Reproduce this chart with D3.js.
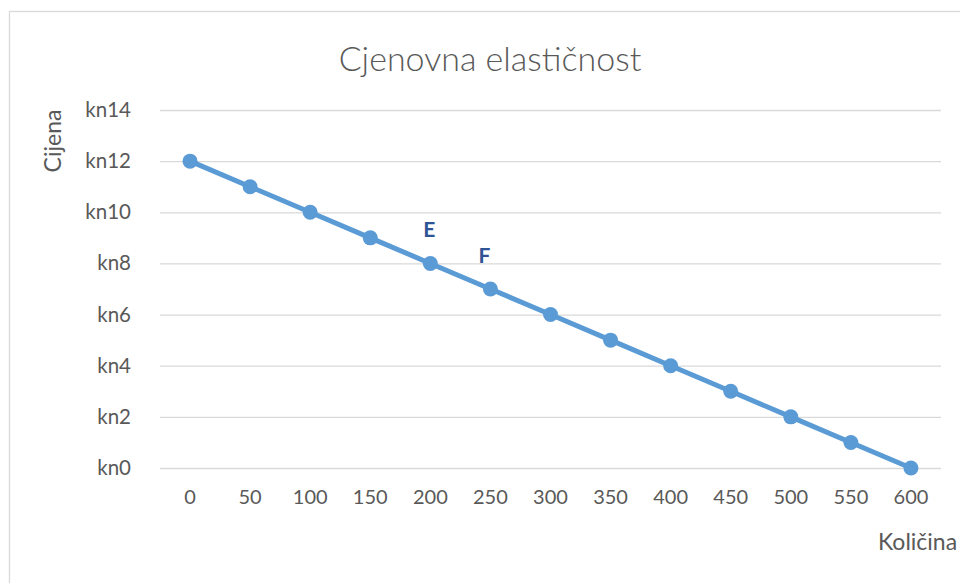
<!DOCTYPE html>
<html>
<head>
<meta charset="utf-8">
<script src="https://cdn.jsdelivr.net/npm/d3@7"></script>
<style>
  html, body { margin: 0; padding: 0; background: #fff; }
  svg { display: block; font-family: Lato, "Open Sans", sans-serif; }
</style>
</head>
<body>
<svg id="chart" width="960" height="583"></svg>
<script>
const categories = ["0","50","100","150","200","250","300","350","400","450","500","550","600"];
const prices = [12, 11, 10, 9, 8, 7, 6, 5, 4, 3, 2, 1, 0];
const yTicks = [0, 2, 4, 6, 8, 10, 12, 14];
const pointLabels = [{cat: "200", text: "E", dx: -1}, {cat: "250", text: "F", dx: -6}];
const title = "Cjenovna elastičnost";
const yTitle = "Cijena";
const xTitle = "Količina";

const svg = d3.select("#chart");
const plot = {left: 160, right: 941, top: 110, bottom: 468};

// chart border (top and left visible)
svg.append("rect").attr("x", 9.5).attr("y", 11.5).attr("width", 980).attr("height", 600)
  .attr("fill", "#fff").attr("stroke", "#D9D9D9").attr("stroke-width", 1.3);

const x = d3.scaleBand().domain(categories).range([plot.left, plot.right]).padding(0);
const y = d3.scaleLinear().domain([0, 14]).range([plot.bottom, plot.top]);
const cx = c => x(c) + x.bandwidth() / 2;

// gridlines + y labels
const yAxis = d3.axisLeft(y).tickValues(yTicks).tickSize(-(plot.right - plot.left)).tickFormat(d => "kn" + d).tickPadding(29);
const gy = svg.append("g").attr("transform", `translate(${plot.left},0)`).call(yAxis);
gy.select(".domain").remove();
gy.selectAll(".tick line").attr("stroke", "#D9D9D9").attr("stroke-width", 1.3);
gy.selectAll(".tick text").attr("fill", "#595959").style("font-size", "20.5px").style("font-family", "Lato, sans-serif");

// x axis labels
const xAxis = d3.axisBottom(x).tickSize(0).tickPadding(22);
const gx = svg.append("g").attr("transform", `translate(0,${plot.bottom})`).call(xAxis);
gx.select(".domain").remove();
gx.selectAll(".tick text").attr("fill", "#595959").style("font-size", "20px").style("font-family", "Lato, sans-serif");

// line
const line = d3.line().x((d, i) => cx(categories[i])).y(d => y(d));
svg.append("path").datum(prices).attr("d", line).attr("fill", "none")
  .attr("stroke", "#5B9BD5").attr("stroke-width", 5).attr("stroke-linejoin", "round");
svg.selectAll("circle.pt").data(prices).enter().append("circle").attr("class", "pt")
  .attr("cx", (d, i) => cx(categories[i])).attr("cy", d => y(d)).attr("r", 7.5)
  .attr("fill", "#5B9BD5");

// point labels
svg.selectAll("text.pl").data(pointLabels).enter().append("text").attr("class", "pl")
  .attr("x", d => cx(d.cat) + d.dx)
  .attr("y", d => y(prices[categories.indexOf(d.cat)]) - 35)
  .attr("text-anchor", "middle").attr("dominant-baseline", "central")
  .attr("fill", "#2F5496").style("font-weight", "bold").style("font-size", "21px")
  .text(d => d.text);

// title
svg.append("text").attr("x", 490).attr("y", 57).attr("text-anchor", "middle")
  .attr("dominant-baseline", "central").attr("fill", "#595959").style("font-size", "34px")
  .style("font-weight", 300)
  .text(title);

// y title
svg.append("text").attr("transform", "translate(52,141) rotate(-90)").attr("text-anchor", "middle")
  .attr("dominant-baseline", "central").attr("fill", "#595959").style("font-size", "23px")
  .text(yTitle);

// x title
svg.append("text").attr("x", 878).attr("y", 541).attr("text-anchor", "start")
  .attr("dominant-baseline", "central").attr("fill", "#595959").style("font-size", "23px")
  .text(xTitle);
</script>
</body>
</html>
